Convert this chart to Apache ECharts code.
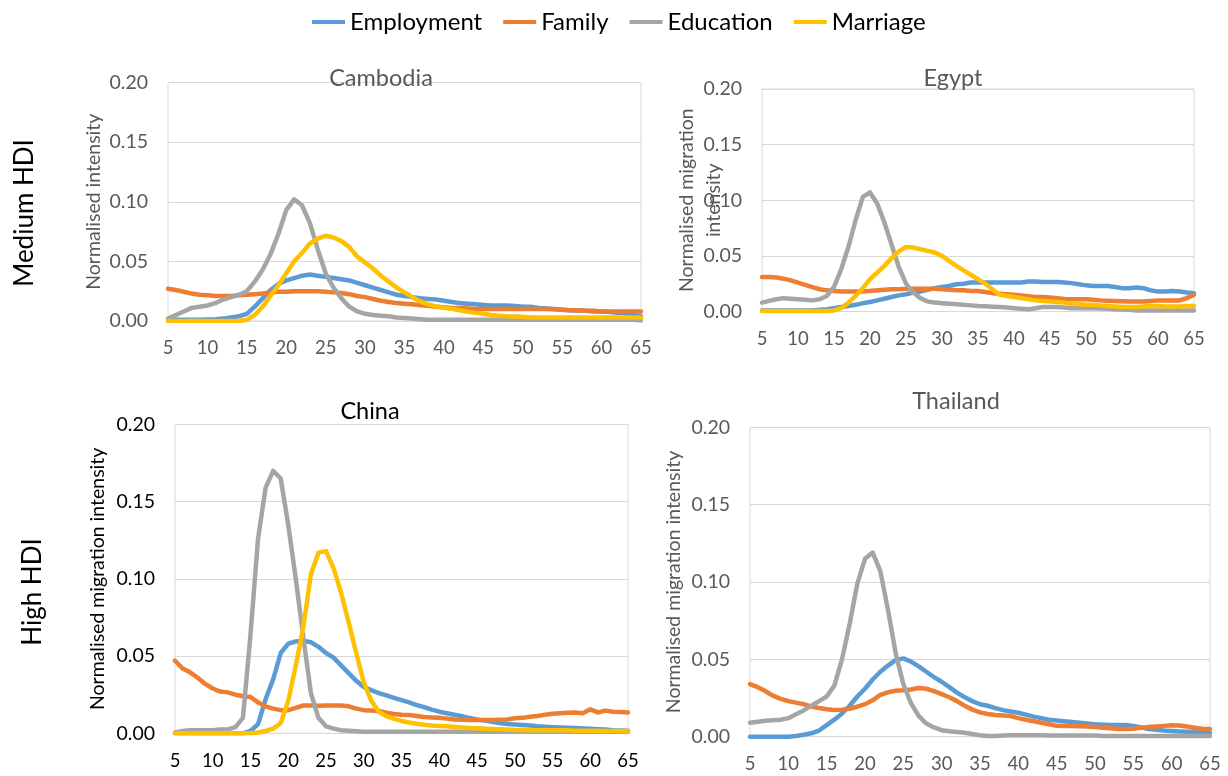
<!DOCTYPE html>
<html>
<head>
<meta charset="utf-8">
<script src="https://cdn.jsdelivr.net/npm/echarts@6/dist/echarts.min.js"></script>
<style>
html,body{margin:0;padding:0;background:#fff;}
#chart{width:1228px;height:776px;}
</style>
</head>
<body>
<div id="chart"></div>
<script>
// ---- Data ----
const AGES = [5,6,7,8,9,10,11,12,13,14,15,16,17,18,19,20,21,22,23,24,25,26,27,28,29,30,31,32,33,34,35,36,37,38,39,40,41,42,43,44,45,46,47,48,49,50,51,52,53,54,55,56,57,58,59,60,61,62,63,64,65];
const SERIES_NAMES = ['Employment','Family','Education','Marriage'];
const X_TICKS = [5,10,15,20,25,30,35,40,45,50,55,60,65];
const Y_TICKS = [0.00,0.05,0.10,0.15,0.20];
const PANEL_TITLES = ['Cambodia','Egypt','China','Thailand'];
const ROW_LABELS = ['Medium HDI','High HDI'];

// Cambodia
const CAM_EMP = [0.001,0.001,0.001,0.001,0.001,0.0012,0.0015,0.002,0.003,0.004,0.006,0.012,0.019,0.026,0.031,0.034,0.036,0.038,0.039,0.038,0.037,0.036,0.035,0.034,0.032,0.030,0.028,0.026,0.024,0.022,0.021,0.020,0.019,0.0185,0.018,0.017,0.016,0.015,0.0145,0.014,0.0135,0.013,0.013,0.013,0.0125,0.012,0.012,0.011,0.0105,0.010,0.0095,0.009,0.0088,0.0085,0.008,0.008,0.0075,0.007,0.0065,0.005,0.004];
const CAM_FAM = [0.027,0.026,0.0245,0.023,0.022,0.0215,0.021,0.021,0.021,0.0215,0.022,0.0225,0.023,0.024,0.0245,0.0245,0.025,0.025,0.025,0.025,0.0245,0.024,0.0235,0.0225,0.021,0.020,0.0185,0.017,0.016,0.015,0.0145,0.014,0.0133,0.0127,0.012,0.0115,0.011,0.011,0.0105,0.010,0.010,0.010,0.010,0.010,0.010,0.010,0.010,0.010,0.010,0.0098,0.0095,0.009,0.009,0.0085,0.0085,0.008,0.008,0.008,0.008,0.008,0.008];
const CAM_EDU = [0.002,0.005,0.008,0.011,0.012,0.013,0.015,0.018,0.020,0.022,0.025,0.033,0.043,0.056,0.073,0.093,0.102,0.097,0.082,0.060,0.040,0.028,0.019,0.012,0.008,0.006,0.005,0.0045,0.004,0.003,0.0025,0.002,0.0015,0.001,0.001,0.001,0.001,0.001,0.001,0.001,0.001,0.001,0.001,0.001,0.001,0.001,0.001,0.001,0.001,0.001,0.001,0.001,0.001,0.001,0.001,0.001,0.001,0.001,0.001,0.001,0.0005];
const CAM_MAR = [0,0,0,0,0,0,0,0,0,0,0.001,0.005,0.012,0.021,0.030,0.040,0.050,0.057,0.065,0.069,0.0715,0.070,0.067,0.062,0.054,0.049,0.044,0.038,0.033,0.028,0.024,0.020,0.0165,0.014,0.0123,0.011,0.0103,0.009,0.0078,0.0068,0.006,0.005,0.0045,0.004,0.0037,0.0035,0.003,0.003,0.003,0.003,0.003,0.003,0.003,0.003,0.003,0.003,0.003,0.003,0.003,0.003,0.003];

// Egypt
const EGY_EMP = [0.001,0.001,0.001,0.001,0.001,0.001,0.001,0.001,0.0015,0.002,0.003,0.004,0.005,0.006,0.0075,0.0085,0.010,0.0115,0.013,0.0145,0.0155,0.017,0.018,0.0195,0.021,0.022,0.023,0.0245,0.025,0.026,0.026,0.026,0.026,0.026,0.026,0.026,0.026,0.027,0.027,0.0265,0.0265,0.0265,0.026,0.0255,0.0245,0.0235,0.023,0.023,0.023,0.022,0.021,0.021,0.0215,0.021,0.019,0.018,0.018,0.0185,0.018,0.017,0.0165];
const EGY_FAM = [0.031,0.031,0.0305,0.0295,0.028,0.026,0.024,0.022,0.020,0.019,0.0185,0.018,0.018,0.018,0.018,0.0185,0.019,0.0195,0.020,0.020,0.0205,0.0205,0.0205,0.0205,0.0205,0.020,0.0195,0.019,0.019,0.0185,0.0185,0.0175,0.0165,0.016,0.0155,0.015,0.0145,0.0137,0.013,0.013,0.0125,0.012,0.0113,0.011,0.011,0.011,0.0105,0.010,0.0097,0.0095,0.0092,0.009,0.009,0.009,0.0095,0.010,0.010,0.010,0.010,0.012,0.015];
const EGY_EDU = [0.008,0.0095,0.011,0.012,0.0115,0.011,0.0105,0.010,0.011,0.014,0.022,0.038,0.058,0.082,0.103,0.107,0.097,0.080,0.060,0.040,0.025,0.017,0.012,0.009,0.008,0.0075,0.007,0.0065,0.006,0.0055,0.005,0.0047,0.0043,0.004,0.0035,0.003,0.0025,0.002,0.003,0.004,0.004,0.004,0.0035,0.003,0.003,0.003,0.003,0.0027,0.0024,0.002,0.0017,0.0015,0.001,0.001,0.001,0.001,0.001,0.001,0.001,0.001,0.001];
const EGY_MAR = [0.0005,0.0005,0.0005,0.0005,0.0005,0.0005,0.0005,0.0005,0.0005,0.0005,0.001,0.003,0.008,0.014,0.021,0.029,0.035,0.041,0.048,0.054,0.058,0.0575,0.056,0.0545,0.053,0.050,0.0455,0.041,0.037,0.033,0.029,0.025,0.020,0.015,0.014,0.013,0.012,0.011,0.010,0.0095,0.009,0.0085,0.008,0.007,0.0065,0.006,0.006,0.0055,0.005,0.0045,0.004,0.004,0.004,0.0045,0.005,0.005,0.0045,0.0045,0.0045,0.005,0.005];

// China
const CHN_EMP = [0,0,0,0,0,0,0,0,0,0,0.0015,0.006,0.022,0.035,0.052,0.058,0.0595,0.060,0.059,0.056,0.052,0.049,0.044,0.039,0.034,0.030,0.028,0.026,0.0245,0.023,0.0215,0.020,0.0183,0.017,0.0153,0.014,0.013,0.012,0.011,0.010,0.009,0.0082,0.0074,0.0066,0.006,0.0057,0.0054,0.005,0.0045,0.0042,0.004,0.0038,0.0036,0.0034,0.0031,0.0029,0.0026,0.0024,0.002,0.0018,0.0017];
const CHN_FAM = [0.047,0.042,0.0395,0.036,0.032,0.029,0.027,0.0265,0.025,0.024,0.0235,0.020,0.0175,0.016,0.015,0.015,0.0165,0.018,0.018,0.0178,0.018,0.018,0.018,0.0175,0.016,0.015,0.0148,0.0145,0.0133,0.0125,0.012,0.0118,0.0112,0.0105,0.0102,0.010,0.0095,0.009,0.0088,0.0086,0.0086,0.0086,0.0086,0.0088,0.009,0.0097,0.010,0.0107,0.0112,0.012,0.0127,0.013,0.0133,0.0135,0.013,0.0155,0.0135,0.0147,0.014,0.0138,0.0135];
const CHN_EDU = [0.0005,0.0015,0.002,0.002,0.002,0.002,0.0025,0.0025,0.004,0.010,0.064,0.126,0.159,0.170,0.165,0.135,0.100,0.062,0.026,0.010,0.0045,0.003,0.002,0.0017,0.0013,0.001,0.001,0.001,0.001,0.001,0.001,0.001,0.001,0.001,0.001,0.001,0.001,0.001,0.001,0.001,0.001,0.001,0.001,0.001,0.001,0.001,0.001,0.001,0.001,0.001,0.001,0.001,0.001,0.001,0.001,0.001,0.001,0.001,0.001,0.001,0.001];
const CHN_MAR = [0,0,0,0,0,0,0,0,0,0,0,0.0005,0.0015,0.003,0.0065,0.021,0.044,0.069,0.103,0.117,0.118,0.107,0.091,0.072,0.052,0.033,0.021,0.014,0.011,0.0093,0.008,0.007,0.0062,0.0055,0.005,0.0048,0.0045,0.0041,0.0038,0.0035,0.0032,0.003,0.0028,0.0026,0.0024,0.0022,0.0021,0.002,0.002,0.002,0.002,0.002,0.002,0.0017,0.0017,0.0016,0.0016,0.0015,0.0015,0.0015,0.0015];

// Thailand (no Marriage series)
const THA_EMP = [0,0,0,0,0,0,0.0005,0.0013,0.0022,0.004,0.0075,0.011,0.015,0.020,0.026,0.031,0.037,0.042,0.046,0.0495,0.0506,0.0485,0.0455,0.042,0.0385,0.0355,0.032,0.0285,0.0255,0.023,0.021,0.020,0.0185,0.0172,0.0163,0.0155,0.0143,0.013,0.012,0.011,0.0105,0.010,0.0095,0.009,0.0085,0.008,0.0078,0.0075,0.0075,0.0075,0.007,0.006,0.005,0.0045,0.004,0.0037,0.0034,0.0032,0.003,0.0028,0.0026];
const THA_FAM = [0.034,0.032,0.0295,0.0265,0.0245,0.023,0.022,0.021,0.0195,0.0185,0.0177,0.0173,0.0175,0.018,0.0195,0.021,0.0235,0.027,0.0287,0.0297,0.030,0.0305,0.0315,0.031,0.0295,0.0275,0.0255,0.023,0.020,0.0175,0.0157,0.0147,0.014,0.0137,0.0133,0.012,0.011,0.010,0.009,0.008,0.007,0.0069,0.0069,0.0068,0.0066,0.0062,0.0058,0.0054,0.005,0.005,0.0052,0.0057,0.0062,0.0066,0.007,0.0074,0.0073,0.0066,0.0058,0.0052,0.005];
const THA_EDU = [0.009,0.0097,0.0103,0.0106,0.011,0.012,0.0145,0.017,0.020,0.023,0.026,0.033,0.050,0.073,0.099,0.115,0.119,0.107,0.082,0.054,0.034,0.0216,0.0135,0.0085,0.006,0.0042,0.0035,0.003,0.0025,0.0017,0.001,0.0005,0.0005,0.0007,0.001,0.001,0.001,0.001,0.001,0.0007,0.0007,0.0007,0.0007,0.0007,0.0007,0.0007,0.0005,0.0005,0.0005,0.0005,0.0005,0.0005,0.0005,0.0005,0.0005,0.0005,0.0005,0.0005,0.0005,0.0005,0.0005];

// ---- Styling ----
const COLORS = {Employment:'#5B9BD5', Family:'#ED7D31', Education:'#A5A5A5', Marriage:'#FFC000'};
const FONT = 'Lato';
const GRAY = '#595959';
const GRID_LINE = '#D9D9D9';

const panels = [
  {title:PANEL_TITLES[0], titleX:376, titleY:61, color:GRAY, grid:{left:168, right:587, top:82.5, bottom:455},
   yName:'Normalised intensity', nameGap:64, nameLH:20,
   data:{Employment:CAM_EMP, Family:CAM_FAM, Education:CAM_EDU, Marriage:CAM_MAR}},
  {title:PANEL_TITLES[1], titleX:948, titleY:61, color:GRAY, grid:{left:762, right:34, top:89, bottom:464.5},
   yName:'Normalised migration\nintensity', nameGap:35, nameLH:27,
   data:{Employment:EGY_EMP, Family:EGY_FAM, Education:EGY_EDU, Marriage:EGY_MAR}},
  {title:PANEL_TITLES[2], titleX:365, titleY:394, color:'#000', grid:{left:175, right:600, top:424.5, bottom:42.7},
   yName:'Normalised migration intensity', nameGap:67, nameLH:20,
   data:{Employment:CHN_EMP, Family:CHN_FAM, Education:CHN_EDU, Marriage:CHN_MAR}},
  {title:PANEL_TITLES[3], titleX:951, titleY:384, color:GRAY, grid:{left:750, right:18, top:427.3, bottom:39.3},
   yName:'Normalised migration intensity', nameGap:66, nameLH:20,
   data:{Employment:THA_EMP, Family:THA_FAM, Education:THA_EDU}}
];

const grids = [], xAxes = [], yAxes = [], series = [], titles = [];
panels.forEach((p, i) => {
  grids.push(Object.assign({show:true, borderColor:GRID_LINE, borderWidth:1, backgroundColor:'#fff', containLabel:false}, p.grid));
  titles.push({text:p.title, left:p.titleX, top:p.titleY, textAlign:'center',
    textStyle:{fontFamily:FONT, fontSize:23.5, fontWeight:'normal', color:p.color}});
  xAxes.push({type:'value', gridIndex:i, min:X_TICKS[0], max:X_TICKS[X_TICKS.length-1], interval:5,
    axisLine:{show:true, lineStyle:{color:GRID_LINE, width:1}}, axisTick:{show:false}, splitLine:{show:false},
    axisLabel:{fontFamily:FONT, fontSize:18.5, color:p.color, margin:18}});
  yAxes.push({type:'value', gridIndex:i, min:Y_TICKS[0], max:Y_TICKS[Y_TICKS.length-1], interval:0.05,
    axisLine:{show:false}, axisTick:{show:false},
    splitLine:{show:true, lineStyle:{color:GRID_LINE, width:1}},
    axisLabel:{fontFamily:FONT, fontSize:19.5, color:p.color, margin:20, formatter:v => v.toFixed(2)},
    name:p.yName, nameLocation:'middle', nameGap:p.nameGap, nameMoveOverlap:false,
    nameTextStyle:{fontFamily:FONT, fontSize:19.5, color:p.color, lineHeight:p.nameLH}});
  SERIES_NAMES.forEach(name => {
    const vals = p.data[name];
    if (!vals) return;
    series.push({name:name, type:'line', xAxisIndex:i, yAxisIndex:i,
      data: AGES.map((a, k) => [a, vals[k]]),
      showSymbol:false, symbol:'none', smooth:false, silent:true,
      lineStyle:{color:COLORS[name], width:4.5, cap:'round', join:'round'},
      itemStyle:{color:COLORS[name]}});
  });
});

const chart = echarts.init(document.getElementById('chart'), null, {renderer:'canvas'});
chart.setOption({
  animation:false,
  backgroundColor:'#fff',
  title:titles,
  legend:{data:SERIES_NAMES, left:312, top:10, padding:0, icon:'rect', itemWidth:33, itemHeight:4, itemGap:21,
    textStyle:{fontFamily:FONT, fontSize:24, color:'#000'}},
  grid:grids, xAxis:xAxes, yAxis:yAxes, series:series,
  graphic:[
    {type:'text', x:25, y:213, rotation:Math.PI/2,
     style:{text:ROW_LABELS[0], fontFamily:FONT, fontSize:26, fill:'#000', align:'center', verticalAlign:'middle'}},
    {type:'text', x:33, y:592, rotation:Math.PI/2,
     style:{text:ROW_LABELS[1], fontFamily:FONT, fontSize:26, fill:'#000', align:'center', verticalAlign:'middle'}}
  ]
});
</script>
</body>
</html>
